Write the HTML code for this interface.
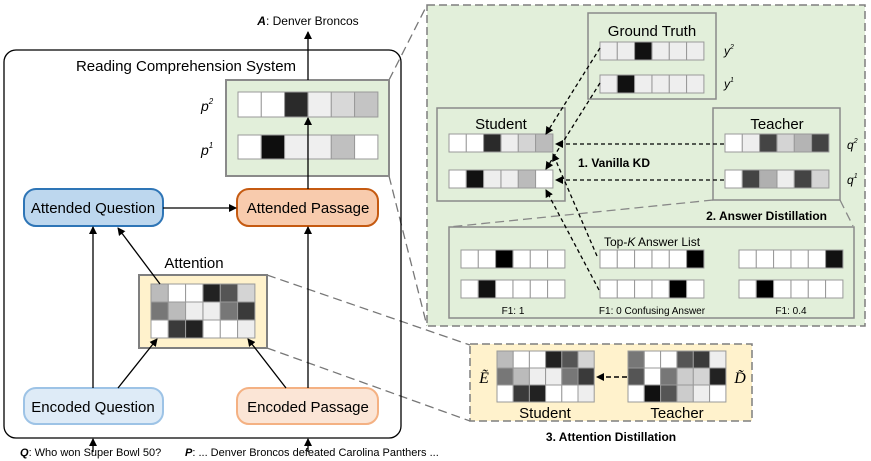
<!DOCTYPE html>
<html><head><meta charset="utf-8"><style>
html,body{margin:0;padding:0;background:#fff;}
svg{display:block;font-family:"Liberation Sans",sans-serif;}
.c rect{stroke:#999;stroke-width:1;}
</style></head><body>
<svg width="871" height="461" viewBox="0 0 871 461" xmlns="http://www.w3.org/2000/svg">
<defs>
<marker id="a" markerWidth="8" markerHeight="8" refX="7" refY="4" orient="auto" markerUnits="userSpaceOnUse"><path d="M0,0 L8,4 L0,8 z" fill="#000"/></marker>
</defs>
<!-- zoom lines -->
<g stroke="#777" stroke-width="1.3" stroke-dasharray="9,5" fill="none">
<line x1="389" y1="80" x2="427" y2="5"/>
<line x1="389" y1="176" x2="427" y2="326"/>
<line x1="267" y1="275" x2="470" y2="345"/>
<line x1="267" y1="348" x2="470" y2="421"/>
</g>
<!-- main box -->
<rect x="4" y="50" width="397" height="388" rx="12" fill="none" stroke="#000" stroke-width="1.3"/>
<text x="186" y="71" font-size="15" text-anchor="middle">Reading Comprehension System</text>
<text x="308" y="25" font-size="12" text-anchor="middle"><tspan font-weight="bold" font-style="italic">A</tspan>: Denver Broncos</text>
<!-- p box -->
<rect x="226" y="80" width="163" height="96" fill="#e2efda" stroke="#8a8a8a" stroke-width="2"/>
<g class="c">
<rect x="238" y="92" width="23.3" height="25" fill="#fff"/><rect x="261.3" y="92" width="23.3" height="25" fill="#fff"/><rect x="284.6" y="92" width="23.3" height="25" fill="#2a2a2a"/><rect x="308" y="92" width="23.3" height="25" fill="#efefef"/><rect x="331.3" y="92" width="23.3" height="25" fill="#d8d8d8"/><rect x="354.6" y="92" width="23.3" height="25" fill="#c4c4c4"/>
<rect x="238" y="135" width="23.3" height="24" fill="#fff"/><rect x="261.3" y="135" width="23.3" height="24" fill="#0e0e0e"/><rect x="284.6" y="135" width="23.3" height="24" fill="#efefef"/><rect x="308" y="135" width="23.3" height="24" fill="#efefef"/><rect x="331.3" y="135" width="23.3" height="24" fill="#c0c0c0"/><rect x="354.6" y="135" width="23.3" height="24" fill="#fff"/>
</g>
<text x="201" y="111" font-size="14" font-style="italic">p<tspan font-size="8" dy="-7">2</tspan></text>
<text x="201" y="155" font-size="14" font-style="italic">p<tspan font-size="8" dy="-7">1</tspan></text>
<!-- nodes -->
<rect x="24" y="189" width="139" height="37" rx="12" fill="#bdd7ee" stroke="#2e75b6" stroke-width="2"/>
<text x="93" y="213" font-size="15" text-anchor="middle">Attended Question</text>
<rect x="237" y="189" width="141" height="37" rx="12" fill="#f8cbad" stroke="#c55a11" stroke-width="2"/>
<text x="308" y="213" font-size="15" text-anchor="middle">Attended Passage</text>
<rect x="24" y="388" width="139" height="36" rx="12" fill="#deebf7" stroke="#9dc3e6" stroke-width="2"/>
<text x="93" y="412" font-size="15" text-anchor="middle">Encoded Question</text>
<rect x="237" y="388" width="141" height="36" rx="12" fill="#fbe5d6" stroke="#f4b183" stroke-width="2"/>
<text x="308" y="412" font-size="15" text-anchor="middle">Encoded Passage</text>
<text x="194" y="268" font-size="15" text-anchor="middle">Attention</text>
<rect x="139" y="275" width="128" height="73" fill="#fff2cc" stroke="#7f7f7f" stroke-width="2"/>
<g class="c">
<rect x="151" y="284" width="17.3" height="18" fill="#bbb"/><rect x="168.3" y="284" width="17.3" height="18" fill="#fff"/><rect x="185.6" y="284" width="17.3" height="18" fill="#fff"/><rect x="203" y="284" width="17.3" height="18" fill="#222"/><rect x="220.3" y="284" width="17.3" height="18" fill="#555"/><rect x="237.6" y="284" width="17.3" height="18" fill="#d4d4d4"/>
<rect x="151" y="302" width="17.3" height="18" fill="#777"/><rect x="168.3" y="302" width="17.3" height="18" fill="#bbb"/><rect x="185.6" y="302" width="17.3" height="18" fill="#eee"/><rect x="203" y="302" width="17.3" height="18" fill="#eee"/><rect x="220.3" y="302" width="17.3" height="18" fill="#777"/><rect x="237.6" y="302" width="17.3" height="18" fill="#3a3a3a"/>
<rect x="151" y="320" width="17.3" height="18" fill="#fff"/><rect x="168.3" y="320" width="17.3" height="18" fill="#3a3a3a"/><rect x="185.6" y="320" width="17.3" height="18" fill="#222"/><rect x="203" y="320" width="17.3" height="18" fill="#fff"/><rect x="220.3" y="320" width="17.3" height="18" fill="#fff"/><rect x="237.6" y="320" width="17.3" height="18" fill="#eee"/>
</g>
<!-- solid arrows -->
<g stroke="#000" stroke-width="1.3" fill="none" marker-end="url(#a)">
<line x1="308" y1="80" x2="308" y2="32"/>
<line x1="308" y1="189" x2="308" y2="118"/>
<line x1="163" y1="208" x2="236" y2="208"/>
<line x1="93" y1="388" x2="93" y2="227"/>
<line x1="160" y1="284" x2="118" y2="228"/>
<line x1="118" y1="388" x2="157" y2="339"/>
<line x1="286" y1="388" x2="248" y2="339"/>
<line x1="308" y1="388" x2="308" y2="227"/>
<line x1="93" y1="452" x2="93" y2="439"/>
<line x1="308" y1="452" x2="308" y2="439"/>
</g>
<text x="20" y="456" font-size="11"><tspan font-weight="bold" font-style="italic">Q</tspan>: Who won Super Bowl 50?</text>
<text x="185" y="456" font-size="11"><tspan font-weight="bold" font-style="italic">P</tspan>: ... Denver Broncos defeated Carolina Panthers ...</text>
<!-- right big box -->
<rect x="427" y="5" width="438" height="321" fill="#e2efda" stroke="#7f7f7f" stroke-width="1.5" stroke-dasharray="8,4"/>
<rect x="588" y="13" width="128" height="86" fill="#e2efda" stroke="#8a8a8a" stroke-width="1.5"/>
<text x="652" y="36" font-size="15" text-anchor="middle">Ground Truth</text>
<g class="c">
<rect x="600" y="42" width="17.3" height="18" fill="#eee"/><rect x="617.3" y="42" width="17.3" height="18" fill="#eee"/><rect x="634.6" y="42" width="17.3" height="18" fill="#111"/><rect x="652" y="42" width="17.3" height="18" fill="#eee"/><rect x="669.3" y="42" width="17.3" height="18" fill="#eee"/><rect x="686.6" y="42" width="17.3" height="18" fill="#eee"/>
<rect x="600" y="75" width="17.3" height="18" fill="#eee"/><rect x="617.3" y="75" width="17.3" height="18" fill="#111"/><rect x="634.6" y="75" width="17.3" height="18" fill="#eee"/><rect x="652" y="75" width="17.3" height="18" fill="#eee"/><rect x="669.3" y="75" width="17.3" height="18" fill="#eee"/><rect x="686.6" y="75" width="17.3" height="18" fill="#eee"/>
</g>
<text x="724" y="55" font-size="12" font-style="italic">y<tspan font-size="7" dy="-6">2</tspan></text>
<text x="724" y="88" font-size="12" font-style="italic">y<tspan font-size="7" dy="-6">1</tspan></text>
<rect x="437" y="108" width="128" height="93" fill="#e2efda" stroke="#8a8a8a" stroke-width="1.5"/>
<text x="501" y="129" font-size="15" text-anchor="middle">Student</text>
<g class="c">
<rect x="449" y="134" width="17.3" height="18" fill="#fff"/><rect x="466.3" y="134" width="17.3" height="18" fill="#fff"/><rect x="483.6" y="134" width="17.3" height="18" fill="#2a2a2a"/><rect x="501" y="134" width="17.3" height="18" fill="#eee"/><rect x="518.3" y="134" width="17.3" height="18" fill="#d4d4d4"/><rect x="535.6" y="134" width="17.3" height="18" fill="#bbb"/>
<rect x="449" y="170" width="17.3" height="18" fill="#fff"/><rect x="466.3" y="170" width="17.3" height="18" fill="#111"/><rect x="483.6" y="170" width="17.3" height="18" fill="#eee"/><rect x="501" y="170" width="17.3" height="18" fill="#eee"/><rect x="518.3" y="170" width="17.3" height="18" fill="#bbb"/><rect x="535.6" y="170" width="17.3" height="18" fill="#fff"/>
</g>
<rect x="713" y="108" width="127" height="92" fill="#e2efda" stroke="#8a8a8a" stroke-width="1.5"/>
<text x="777" y="129" font-size="15" text-anchor="middle">Teacher</text>
<g class="c">
<rect x="725" y="134" width="17.3" height="18" fill="#fff"/><rect x="742.3" y="134" width="17.3" height="18" fill="#eee"/><rect x="759.6" y="134" width="17.3" height="18" fill="#444"/><rect x="777" y="134" width="17.3" height="18" fill="#d4d4d4"/><rect x="794.3" y="134" width="17.3" height="18" fill="#b4b4b4"/><rect x="811.6" y="134" width="17.3" height="18" fill="#444"/>
<rect x="725" y="170" width="17.3" height="18" fill="#fff"/><rect x="742.3" y="170" width="17.3" height="18" fill="#444"/><rect x="759.6" y="170" width="17.3" height="18" fill="#b0b0b0"/><rect x="777" y="170" width="17.3" height="18" fill="#eee"/><rect x="794.3" y="170" width="17.3" height="18" fill="#444"/><rect x="811.6" y="170" width="17.3" height="18" fill="#d4d4d4"/>
</g>
<text x="847" y="149" font-size="12" font-style="italic">q<tspan font-size="7" dy="-6">2</tspan></text>
<text x="847" y="184" font-size="12" font-style="italic">q<tspan font-size="7" dy="-6">1</tspan></text>
<text x="614" y="167" font-size="12" font-weight="bold" text-anchor="middle">1. Vanilla KD</text>
<text x="827" y="220" font-size="12" font-weight="bold" text-anchor="end">2. Answer Distillation</text>
<g stroke="#888" stroke-width="1.3" stroke-dasharray="9,5" fill="none">
<line x1="713" y1="200" x2="449" y2="227"/>
<line x1="840" y1="200" x2="853" y2="226"/>
</g>
<rect x="449" y="227" width="405" height="91" fill="#e2efda" stroke="#8a8a8a" stroke-width="1.5"/>
<text x="652" y="246" font-size="12" text-anchor="middle">Top-<tspan font-style="italic">K</tspan> Answer List</text>
<g class="c">
<rect x="461" y="250" width="17.3" height="18" fill="#fff"/><rect x="478.3" y="250" width="17.3" height="18" fill="#fff"/><rect x="495.6" y="250" width="17.3" height="18" fill="#000"/><rect x="513" y="250" width="17.3" height="18" fill="#fff"/><rect x="530.3" y="250" width="17.3" height="18" fill="#fff"/><rect x="547.6" y="250" width="17.3" height="18" fill="#fff"/>
<rect x="461" y="280" width="17.3" height="18" fill="#fff"/><rect x="478.3" y="280" width="17.3" height="18" fill="#111"/><rect x="495.6" y="280" width="17.3" height="18" fill="#fff"/><rect x="513" y="280" width="17.3" height="18" fill="#fff"/><rect x="530.3" y="280" width="17.3" height="18" fill="#fff"/><rect x="547.6" y="280" width="17.3" height="18" fill="#fff"/>
<rect x="600" y="250" width="17.3" height="18" fill="#fff"/><rect x="617.3" y="250" width="17.3" height="18" fill="#fff"/><rect x="634.6" y="250" width="17.3" height="18" fill="#fff"/><rect x="652" y="250" width="17.3" height="18" fill="#fff"/><rect x="669.3" y="250" width="17.3" height="18" fill="#fff"/><rect x="686.6" y="250" width="17.3" height="18" fill="#000"/>
<rect x="600" y="280" width="17.3" height="18" fill="#fff"/><rect x="617.3" y="280" width="17.3" height="18" fill="#fff"/><rect x="634.6" y="280" width="17.3" height="18" fill="#fff"/><rect x="652" y="280" width="17.3" height="18" fill="#fff"/><rect x="669.3" y="280" width="17.3" height="18" fill="#000"/><rect x="686.6" y="280" width="17.3" height="18" fill="#fff"/>
<rect x="739" y="250" width="17.3" height="18" fill="#fff"/><rect x="756.3" y="250" width="17.3" height="18" fill="#fff"/><rect x="773.6" y="250" width="17.3" height="18" fill="#fff"/><rect x="791" y="250" width="17.3" height="18" fill="#fff"/><rect x="808.3" y="250" width="17.3" height="18" fill="#fff"/><rect x="825.6" y="250" width="17.3" height="18" fill="#111"/>
<rect x="739" y="280" width="17.3" height="18" fill="#fff"/><rect x="756.3" y="280" width="17.3" height="18" fill="#000"/><rect x="773.6" y="280" width="17.3" height="18" fill="#fff"/><rect x="791" y="280" width="17.3" height="18" fill="#fff"/><rect x="808.3" y="280" width="17.3" height="18" fill="#fff"/><rect x="825.6" y="280" width="17.3" height="18" fill="#fff"/>
</g>
<text x="513" y="314" font-size="10" text-anchor="middle">F1: 1</text>
<text x="652" y="314" font-size="10" text-anchor="middle">F1: 0  Confusing Answer</text>
<text x="791" y="314" font-size="10" text-anchor="middle">F1: 0.4</text>
<!-- dashed arrows -->
<g stroke="#000" stroke-width="1.3" stroke-dasharray="4,3" fill="none" marker-end="url(#a)">
<line x1="724" y1="144" x2="556" y2="144"/>
<line x1="724" y1="180" x2="556" y2="180"/>
<line x1="600" y1="48" x2="546" y2="134"/>
<line x1="600" y1="83" x2="546" y2="169"/>
<line x1="597" y1="256" x2="553" y2="154"/>
<line x1="599" y1="290" x2="546" y2="190"/>
</g>
<!-- attention distillation -->
<rect x="470" y="344" width="282" height="77" fill="#fff2cc" stroke="#7f7f7f" stroke-width="1.5" stroke-dasharray="8,4"/>
<g class="c">
<rect x="497" y="351" width="16.2" height="17" fill="#bbb"/><rect x="513.2" y="351" width="16.2" height="17" fill="#fff"/><rect x="529.4" y="351" width="16.2" height="17" fill="#fff"/><rect x="545.6" y="351" width="16.2" height="17" fill="#222"/><rect x="561.8" y="351" width="16.2" height="17" fill="#555"/><rect x="578" y="351" width="16.2" height="17" fill="#d4d4d4"/>
<rect x="497" y="368" width="16.2" height="17" fill="#777"/><rect x="513.2" y="368" width="16.2" height="17" fill="#bbb"/><rect x="529.4" y="368" width="16.2" height="17" fill="#eee"/><rect x="545.6" y="368" width="16.2" height="17" fill="#eee"/><rect x="561.8" y="368" width="16.2" height="17" fill="#777"/><rect x="578" y="368" width="16.2" height="17" fill="#3a3a3a"/>
<rect x="497" y="385" width="16.2" height="17" fill="#fff"/><rect x="513.2" y="385" width="16.2" height="17" fill="#3a3a3a"/><rect x="529.4" y="385" width="16.2" height="17" fill="#222"/><rect x="545.6" y="385" width="16.2" height="17" fill="#fff"/><rect x="561.8" y="385" width="16.2" height="17" fill="#fff"/><rect x="578" y="385" width="16.2" height="17" fill="#eee"/>
<rect x="628" y="351" width="16.3" height="17" fill="#777"/><rect x="644.3" y="351" width="16.3" height="17" fill="#fff"/><rect x="660.6" y="351" width="16.3" height="17" fill="#fff"/><rect x="677" y="351" width="16.3" height="17" fill="#555"/><rect x="693.3" y="351" width="16.3" height="17" fill="#3a3a3a"/><rect x="709.6" y="351" width="16.3" height="17" fill="#eee"/>
<rect x="628" y="368" width="16.3" height="17" fill="#555"/><rect x="644.3" y="368" width="16.3" height="17" fill="#fff"/><rect x="660.6" y="368" width="16.3" height="17" fill="#777"/><rect x="677" y="368" width="16.3" height="17" fill="#ccc"/><rect x="693.3" y="368" width="16.3" height="17" fill="#d4d4d4"/><rect x="709.6" y="368" width="16.3" height="17" fill="#222"/>
<rect x="628" y="385" width="16.3" height="17" fill="#fff"/><rect x="644.3" y="385" width="16.3" height="17" fill="#111"/><rect x="660.6" y="385" width="16.3" height="17" fill="#555"/><rect x="677" y="385" width="16.3" height="17" fill="#ccc"/><rect x="693.3" y="385" width="16.3" height="17" fill="#eee"/><rect x="709.6" y="385" width="16.3" height="17" fill="#fff"/>
</g>
<line x1="627" y1="377" x2="597" y2="377" stroke="#000" stroke-width="1.5" stroke-dasharray="5,3" marker-end="url(#a)"/>
<text x="484" y="383" font-size="16" font-style="italic" font-family="Liberation Serif,serif" text-anchor="middle">Ẽ</text>
<text x="740" y="383" font-size="16" font-style="italic" font-family="Liberation Serif,serif" text-anchor="middle">D̃</text>
<text x="545" y="418" font-size="15" text-anchor="middle">Student</text>
<text x="677" y="418" font-size="15" text-anchor="middle">Teacher</text>
<text x="611" y="441" font-size="12" font-weight="bold" text-anchor="middle">3. Attention Distillation</text>
</svg>
</body></html>
